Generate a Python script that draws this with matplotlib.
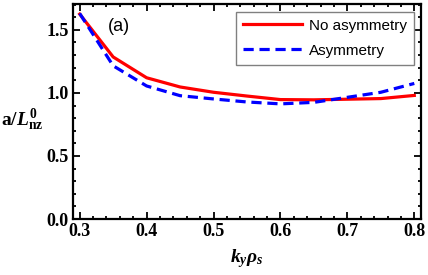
import matplotlib
matplotlib.use("Agg")
import matplotlib.pyplot as plt
from matplotlib.ticker import MultipleLocator

ky = [0.30, 0.35, 0.40, 0.45, 0.50, 0.55, 0.60, 0.65, 0.70, 0.75, 0.80]
no_asym = [1.625, 1.285, 1.12, 1.047, 1.005, 0.975, 0.947, 0.945, 0.95, 0.955, 0.98]
asym = [1.63, 1.215, 1.055, 0.978, 0.952, 0.928, 0.913, 0.925, 0.965, 1.005, 1.075]

plt.rcParams['mathtext.fontset'] = 'custom'
plt.rcParams['mathtext.rm'] = 'Liberation Serif:bold'
plt.rcParams['mathtext.it'] = 'Liberation Serif:bold:italic'
plt.rcParams['mathtext.bf'] = 'Liberation Serif:bold'

fig = plt.figure(figsize=(4.28, 2.75), dpi=100)
ax = fig.add_axes([73/428, 1-219/275, 348/428, 215/275])

ax.plot(ky, no_asym, color='#ff0000', lw=2.3, label='No asymmetry')
ax.plot(ky, asym, color='#0000ff', lw=2.3, dashes=(3.2, 1.8), label='Asymmetry')

ax.set_xlim(0.29, 0.81)
ax.set_ylim(0.0, 1.705)
ax.xaxis.set_major_locator(MultipleLocator(0.1))
ax.xaxis.set_minor_locator(MultipleLocator(0.02))
ax.yaxis.set_major_locator(MultipleLocator(0.5))
ax.yaxis.set_minor_locator(MultipleLocator(0.1))
ax.tick_params(which='both', direction='in', top=True, right=True, width=1.3)
ax.tick_params(which='major', length=5, labelsize=13, pad=3)
ax.tick_params(which='minor', length=2.5)
for lab in ax.get_xticklabels() + ax.get_yticklabels():
    lab.set_fontfamily('Liberation Serif')
    lab.set_fontweight('bold')
for sp in ax.spines.values():
    sp.set_linewidth(1.6)

ax.set_xlabel(r'$k_y\rho_s$', fontsize=14, labelpad=5)
ax.set_ylabel(r'$\mathrm{a}/L^{0}_{\mathrm{nz}}$', fontsize=14, rotation=0, labelpad=4, va='center')
ax.yaxis.set_label_coords(-0.145, 0.46)

ax.text(0.10, 0.895, '(a)', transform=ax.transAxes, fontsize=13,
        family='Liberation Sans', va='center', ha='left')

leg = ax.legend(loc='upper right', bbox_to_anchor=(0.98, 0.963), borderaxespad=0,
                fancybox=False, edgecolor='#808080', framealpha=1,
                prop={'family': 'Liberation Sans', 'size': 11},
                handlelength=3.9, handletextpad=0.45, borderpad=0.45, labelspacing=0.72)
leg.get_frame().set_linewidth(1.0)

fig.savefig('out.png', dpi=100)
